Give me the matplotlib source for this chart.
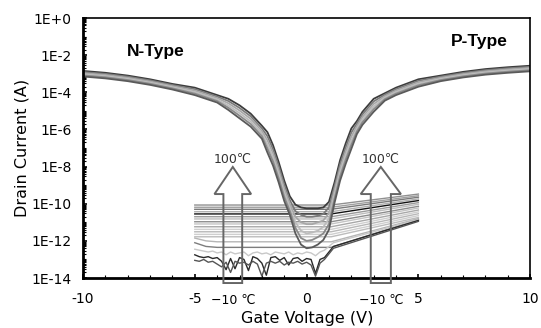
import numpy as np
import matplotlib.pyplot as plt
from matplotlib.patches import Polygon
from matplotlib.ticker import LogLocator, NullFormatter, MultipleLocator

# gate voltage grid for the transfer curves (V)
vg = [-10, -9, -8, -7, -6, -5, -4, -3.5, -3, -2.5, -2, -1.75, -1.5, -1.25, -1,
      -0.75, -0.5, -0.25, 0, 0.25, 0.5, 0.75, 1, 1.25, 1.5, 1.75, 2, 2.25, 2.5,
      3, 3.5, 4, 5, 6, 7, 8, 9, 10]

# log10 of drain current (A), one list per temperature curve
log_id_t100 = [-2.85, -2.95, -3.1, -3.3, -3.55, -3.75, -4.15, -4.35, -4.7, -5.15, -5.8, -6.15, -6.85, -7.75, -8.75,
               -9.6, -10.05, -10.2, -10.25, -10.25, -10.25, -10.2, -9.9, -8.85, -7.65, -6.75, -5.95, -5.55, -5.05,
               -4.35, -4.05, -3.75, -3.3, -3.1, -2.9, -2.75, -2.65, -2.57]
log_id_t80 = [-2.91, -3.01, -3.16, -3.36, -3.61, -3.83, -4.23, -4.47, -4.84, -5.29, -5.94, -6.37, -7.07, -7.97, -8.97,
              -9.8, -10.4, -10.6, -10.7, -10.7, -10.65, -10.55, -10.2, -9.07, -7.87, -6.97, -6.17, -5.69, -5.19,
              -4.49, -4.13, -3.83, -3.38, -3.16, -2.96, -2.81, -2.71, -2.63]
log_id_t60 = [-2.97, -3.07, -3.22, -3.42, -3.67, -3.91, -4.31, -4.59, -4.98, -5.43, -6.08, -6.59, -7.29, -8.19, -9.19,
              -10.0, -10.7, -11.0, -11.1, -11.1, -11.0, -10.9, -10.5, -9.29, -8.09, -7.19, -6.39, -5.83, -5.33,
              -4.63, -4.21, -3.91, -3.46, -3.22, -3.02, -2.87, -2.77, -2.69]
log_id_t40 = [-3.03, -3.13, -3.28, -3.48, -3.73, -3.99, -4.39, -4.71, -5.12, -5.57, -6.22, -6.81, -7.51, -8.41, -9.41,
              -10.2, -11.0, -11.45, -11.6, -11.55, -11.45, -11.25, -10.8, -9.51, -8.31, -7.41, -6.61, -5.97, -5.47,
              -4.77, -4.29, -3.99, -3.54, -3.28, -3.08, -2.93, -2.83, -2.75]
log_id_t20 = [-3.09, -3.19, -3.34, -3.54, -3.79, -4.07, -4.47, -4.83, -5.26, -5.71, -6.36, -7.03, -7.73, -8.63, -9.63,
              -10.4, -11.3, -11.85, -12.0, -11.95, -11.8, -11.6, -11.1, -9.73, -8.53, -7.63, -6.83, -6.11, -5.61,
              -4.91, -4.37, -4.07, -3.62, -3.34, -3.14, -2.99, -2.89, -2.81]
log_id_tm10 = [-3.15, -3.25, -3.4, -3.6, -3.85, -4.15, -4.55, -4.95, -5.4, -5.85, -6.5, -7.25, -7.95, -8.85, -9.85,
               -10.6, -11.6, -12.2, -12.4, -12.35, -12.2, -11.95, -11.4, -9.95, -8.75, -7.85, -7.05, -6.25, -5.75,
               -5.05, -4.45, -4.15, -3.7, -3.4, -3.2, -3.05, -2.95, -2.87]

# leakage lines, -5 V .. 5 V (flat level, then rising)
leak_vg = [-5, 1.1, 5]
leak_start = [-10.07, -10.19, -10.30, -10.43, -10.55, -10.70, -10.82, -10.97, -11.09, -11.24, -11.38, -11.51, -11.65, -11.78]
leak_end = [-9.48, -9.57, -9.65, -9.74, -9.83, -9.94, -10.03, -10.14, -10.23, -10.34, -10.44, -10.54, -10.64, -10.74]
leak_colors = ['#909090', '#a0a0a0', '#7a7a7a', '#b0b0b0', '#111111', '#9a9a9a', '#bdbdbd',
               '#8c8c8c', '#c4c4c4', '#a8a8a8', '#d0d0d0', '#b8b8b8', '#cfcfcf', '#bcbcbc']

bent_vg = [-5, -4.5, -4, 1.1, 5]
bent_a = [-11.85, -12.0, -12.05, -12.05, -10.8]
bent_b = [-12.1, -12.3, -12.35, -12.35, -10.85]

# noisy low-temperature lines
noise_vg = [-5.0, -4.8, -4.6, -4.4, -4.2, -4.0, -3.8, -3.6, -3.4, -3.2, -3.0, -2.8, -2.6, -2.4, -2.2, -2.0,
            -1.8, -1.6, -1.4, -1.2, -1.0, -0.8, -0.6, -0.4, -0.2, 0.0, 0.2, 0.4, 0.6, 0.8, 1.0, 1.2, 5.0]
noise_a = [-12.75, -12.85, -12.9, -12.85, -12.95, -12.9, -13.1, -13.55, -12.95, -13.5, -12.9, -13.0, -13.6, -12.85,
           -12.95, -13.2, -13.85, -12.9, -12.85, -13.05, -12.9, -13.3, -12.95, -12.9, -13.1, -12.95, -13.0, -13.75,
           -13.0, -12.9, -12.6, -12.3, -10.9]
noise_b = [-12.45, -12.5, -12.55, -12.6, -12.55, -12.65, -12.6, -12.75, -12.6, -12.7, -12.65, -12.6, -12.8, -12.65,
           -12.6, -12.7, -12.65, -12.75, -12.6, -12.65, -12.7, -12.6, -12.75, -12.65, -12.7, -12.6, -12.65, -12.8,
           -12.6, -12.5, -12.3, -12.1, -10.85]
noise_c = [-13.05, -13.1, -13.0, -13.15, -13.1, -13.25, -13.4, -13.15, -13.7, -13.1, -13.2, -13.15, -13.3, -13.1,
           -13.25, -13.9, -13.2, -13.1, -13.2, -13.1, -13.3, -13.15, -13.2, -13.1, -13.25, -13.15, -13.3, -13.9,
           -13.2, -13.0, -12.7, -12.4, -10.95]

NARROW = ['Liberation Sans Narrow', 'DejaVu Sans']

fig = plt.figure(figsize=(5.41, 3.28), dpi=100)
ax = fig.add_axes([0.1534, 0.1524, 0.8266, 0.7927])

# leakage fan
for s, e, c in zip(leak_start, leak_end, leak_colors):
    ax.plot(leak_vg, 10.0 ** np.array([s, s, e]), color=c, lw=1.0)
ax.plot(bent_vg, 10.0 ** np.array(bent_a), color='#b5b5b5', lw=1.0)
ax.plot(bent_vg, 10.0 ** np.array(bent_b), color='#7d7d7d', lw=1.0)
ax.plot(noise_vg, 10.0 ** np.array(noise_b), color='#c8c8c8', lw=1.0)
ax.plot(noise_vg, 10.0 ** np.array(noise_a), color='#2a2a2a', lw=1.0)
ax.plot(noise_vg, 10.0 ** np.array(noise_c), color='#555555', lw=1.0)

# transfer curves
curves = [log_id_t100, log_id_t80, log_id_t60, log_id_t40, log_id_t20, log_id_tm10]
curve_colors = ['#3c3c3c', '#7a7a7a', '#a8a8a8', '#bcbcbc', '#8a8a8a', '#5a5a5a']
for y, c in zip(curves, curve_colors):
    ax.plot(vg, 10.0 ** np.array(y), color=c, lw=1.3)

# hollow arrows (-10 C -> 100 C)
for cx, sh, hh in [(-3.3, 0.42, 0.82), (3.32, 0.45, 0.9)]:
    tip, base, bot = 10 ** -8.02, 10 ** -9.48, 10 ** -14.27
    verts = [(cx - sh, bot), (cx - sh, base), (cx - hh, base), (cx, tip),
             (cx + hh, base), (cx + sh, base), (cx + sh, bot)]
    ax.add_patch(Polygon(verts, closed=True, fill=False, edgecolor='#666666',
                         lw=1.4, clip_on=False, zorder=5))
    ax.text(cx, 10 ** -7.6, '100℃', ha='center', va='center', fontsize=9,
            family=NARROW, color='#333333')
    ax.text(cx, 10 ** -15.2, '−10 ℃', ha='center', va='center', fontsize=9,
            family=NARROW, clip_on=False)

ax.text(-6.73, 10 ** -1.83, 'N-Type', ha='center', va='center', fontsize=12.5,
        fontweight='bold', family='Liberation Sans')
ax.text(7.72, 10 ** -1.29, 'P-Type', ha='center', va='center', fontsize=12.5,
        fontweight='bold', family='Liberation Sans')

ax.set_xlim(-10, 10)
ax.set_yscale('log')
ax.set_ylim(1e-14, 1)
ax.set_xticks([-10, -5, 0, 5, 10])
ax.set_xticklabels(['-10', '-5', '0', '5', '10'])
ax.xaxis.set_minor_locator(MultipleLocator(1))
ax.set_yticks([10.0 ** -k for k in range(0, 15, 2)])
ax.set_yticklabels(['1E+0', '1E-2', '1E-4', '1E-6', '1E-8', '1E-10', '1E-12', '1E-14'])
ax.yaxis.set_minor_locator(LogLocator(base=10, subs=np.arange(1, 10), numticks=200))
ax.yaxis.set_minor_formatter(NullFormatter())
ax.tick_params(which='both', direction='in', length=3, width=1.2, labelsize=10)
ax.tick_params(axis='x', pad=10)
ax.tick_params(axis='y', pad=8)
ax.tick_params(which='minor', length=2, width=0.8)
for lab in ax.get_xticklabels() + ax.get_yticklabels():
    lab.set_family(NARROW)

ax.spines['left'].set_linewidth(2)
ax.spines['bottom'].set_linewidth(2)
ax.spines['top'].set_linewidth(1.2)
ax.spines['right'].set_linewidth(1.2)

# axis titles placed to match the original layout
fig.text(0.567, 0.03, 'Gate Voltage (V)', ha='center', va='center', fontsize=11.5, family=NARROW)
fig.text(0.04, 0.55, 'Drain Current (A)', ha='center', va='center', rotation=90,
         fontsize=11.5, family=NARROW)

fig.savefig('out.png', dpi=100)
